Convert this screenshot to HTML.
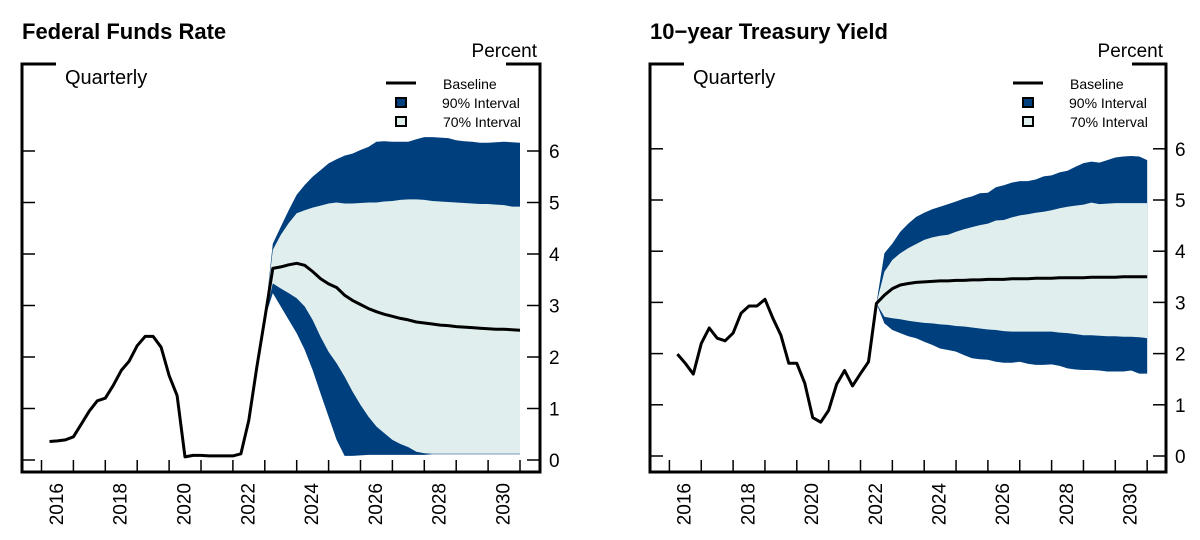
<!DOCTYPE html>
<html><head><meta charset="utf-8"><style>
body{margin:0;background:#fff;}
svg{display:block;font-family:"Liberation Sans",Arial,sans-serif;}
</style></head><body>
<svg id="c" width="1200" height="540" viewBox="0 0 1200 540"></svg>
<script>
// ---- Federal Funds Rate data (quarterly, 2016Q1..2030Q4) ----
const ffrBaseline = [0.36,0.37,0.39,0.45,0.70,0.95,1.15,1.20,1.45,1.74,1.92,2.22,2.40,2.40,2.19,1.64,1.25,0.06,0.09,0.09,0.08,0.08,0.08,0.08,0.12,0.77,1.8,2.75,
3.72,3.75,3.79,3.82,3.78,3.66,3.52,3.42,3.35,3.2,3.1,3.02,2.94,2.88,2.83,2.79,2.75,2.72,2.68,2.66,2.64,2.62,2.61,2.59,2.58,2.57,2.56,2.55,2.54,2.54,2.53,2.52];
const ffrBandStart = 27;
const ffrU90 = [2.75,4.2,4.53,4.85,5.15,5.34,5.5,5.63,5.76,5.84,5.91,5.95,6.02,6.08,6.18,6.19,6.18,6.18,6.18,6.23,6.27,6.27,6.26,6.25,6.21,6.19,6.18,6.16,6.16,6.17,6.18,6.17,6.16];
const ffrU70 = [2.75,4.08,4.37,4.6,4.79,4.85,4.9,4.94,4.98,5.0,4.98,4.98,4.99,5.0,5.0,5.02,5.03,5.05,5.06,5.06,5.05,5.03,5.02,5.01,5.0,4.99,4.98,4.97,4.97,4.96,4.95,4.92,4.92];
const ffrL70 = [2.75,3.43,3.33,3.24,3.14,2.98,2.72,2.39,2.1,1.88,1.62,1.33,1.07,0.84,0.65,0.52,0.39,0.31,0.25,0.16,0.13,0.12,0.12,0.12,0.12,0.12,0.12,0.12,0.12,0.12,0.12,0.12,0.12];
const ffrL90 = [2.75,3.24,2.98,2.72,2.46,2.14,1.75,1.29,0.84,0.39,0.08,0.08,0.09,0.1,0.1,0.1,0.1,0.1,0.1,0.1,0.1,0.11,0.11,0.11,0.11,0.11,0.11,0.11,0.11,0.11,0.11,0.11,0.11];
// ---- 10-year Treasury data ----
const tyBaseline = [1.99,1.81,1.6,2.2,2.5,2.3,2.25,2.4,2.79,2.93,2.93,3.06,2.69,2.36,1.81,1.81,1.42,0.75,0.66,0.89,1.4,1.67,1.37,1.61,1.84,2.98,
3.14,3.27,3.34,3.37,3.39,3.40,3.41,3.42,3.42,3.43,3.43,3.44,3.44,3.45,3.45,3.45,3.46,3.46,3.46,3.47,3.47,3.47,3.48,3.48,3.48,3.48,3.49,3.49,3.49,3.49,3.50,3.50,3.50,3.50];
const tyBandStart = 25;
const tyU90 = [2.98,3.96,4.15,4.38,4.54,4.67,4.75,4.82,4.87,4.92,4.97,5.03,5.07,5.13,5.14,5.25,5.29,5.34,5.37,5.37,5.4,5.46,5.48,5.54,5.57,5.65,5.72,5.75,5.73,5.78,5.83,5.85,5.86,5.85,5.78];
const tyU70 = [2.98,3.6,3.83,3.96,4.06,4.14,4.22,4.27,4.3,4.32,4.38,4.43,4.47,4.51,4.54,4.6,4.61,4.66,4.7,4.72,4.75,4.77,4.8,4.84,4.87,4.89,4.91,4.95,4.92,4.93,4.94,4.94,4.94,4.94,4.94];
const tyL70 = [2.98,2.72,2.69,2.67,2.64,2.62,2.6,2.59,2.57,2.56,2.54,2.53,2.51,2.49,2.47,2.46,2.44,2.43,2.43,2.43,2.43,2.43,2.43,2.41,2.4,2.38,2.36,2.36,2.35,2.34,2.34,2.33,2.33,2.32,2.3];
const tyL90 = [2.98,2.59,2.46,2.4,2.34,2.3,2.23,2.17,2.1,2.07,2.04,1.97,1.91,1.89,1.88,1.84,1.82,1.82,1.84,1.8,1.78,1.78,1.79,1.76,1.71,1.69,1.68,1.68,1.67,1.65,1.65,1.65,1.67,1.61,1.61];
const yTicks = [0,1,2,3,4,5,6];
const yearLabels = [2016,2018,2020,2022,2024,2026,2028,2030];

const NS='http://www.w3.org/2000/svg';
const svg=document.getElementById('c');
function mk(tag,attrs,parent,text){const e=document.createElementNS(NS,tag);for(const k in attrs)e.setAttribute(k,attrs[k]);if(text!==undefined)e.textContent=text;(parent||svg).appendChild(e);return e;}

function drawPanel(cfg){
  const g=mk('g',{});
  
  
  const X=t=>cfg.x0+(t-2016)*cfg.px;
  const Y=v=>cfg.y0-v*cfg.py;
  const qx=i=>X(2016+(i+1)/4);
  function band(up,lo,fill,nm){
    let pts=[];
    for(let i=0;i<up.length;i++)pts.push(qx(cfg.bs+i).toFixed(1)+','+Y(up[i]).toFixed(1));
    for(let i=lo.length-1;i>=0;i--)pts.push(qx(cfg.bs+i).toFixed(1)+','+Y(lo[i]).toFixed(1));
    const p=mk('polygon',{points:pts.join(' '),fill:fill},g);
    
    
  }
  band(cfg.u90,cfg.l90,'#003f7d','band-90-interval');
  band(cfg.u70,cfg.l70,'#e0eeee','band-70-interval');
  let d='';
  cfg.base.forEach((v,i)=>{d+=(i?'L':'M')+qx(i).toFixed(1)+' '+Y(v).toFixed(1);});
  const bl=mk('path',{d:d,fill:'none',stroke:'#000','stroke-width':3,'stroke-linejoin':'round'},g);
  
  
  const L=cfg.L,R=cfg.R,T=64,B=472;
  const fr=mk('path',{d:`M${L+34} ${T}H${L}V${B}H${R}V${T}H${R-34}`,fill:'none',stroke:'#000','stroke-width':3},g);
  
  
  yTicks.forEach(v=>{
    mk('line',{x1:L,x2:L+13,y1:Y(v),y2:Y(v),stroke:'#000','stroke-width':1.5},g);
    mk('line',{x1:R-13,x2:R,y1:Y(v),y2:Y(v),stroke:'#000','stroke-width':1.5},g);
    const t=mk('text',{x:R+9,y:Y(v)+7,'font-size':19},g,String(v));
    
    
  });
  for(let yr=2016;yr<=2031;yr++){
    mk('line',{x1:X(yr),x2:X(yr),y1:B,y2:B-12,stroke:'#000','stroke-width':1.5},g);
  }
  yearLabels.forEach(yr=>{
    const cx=X(yr+0.45)+7;
    const t=mk('text',{x:0,y:0,'font-size':19,'text-anchor':'end',transform:`translate(${cx.toFixed(1)},483) rotate(-90)`},g,String(yr));
    
    
  });
  const ti=mk('text',{x:L,y:39,'font-size':22,'font-weight':'bold'},g,cfg.title);
  
  
  const pc=mk('text',{x:R-3,y:57,'font-size':19,'text-anchor':'end'},g,'Percent');
  
  
  const q=mk('text',{x:L+43,y:84,'font-size':20},g,'Quarterly');
  
  
  const lx=cfg.lx;
  const lg=mk('g',{},g);
  
  
  mk('line',{x1:lx,x2:lx+30,y1:83,y2:83,stroke:'#000','stroke-width':3},lg);
  mk('rect',{x:lx+10,y:98,width:10,height:9,fill:'#003f7d',stroke:'#000','stroke-width':2},lg);
  mk('rect',{x:lx+10,y:117,width:10,height:9,fill:'#e0eeee',stroke:'#000','stroke-width':2},lg);
  mk('text',{x:lx+57,y:89,'font-size':14},lg,'Baseline');
  mk('text',{x:lx+56,y:108,'font-size':14},lg,'90% Interval');
  mk('text',{x:lx+57,y:127,'font-size':14},lg,'70% Interval');
}

drawPanel({name:'federal-funds-rate-panel',title:'Federal Funds Rate',x0:41.5,px:31.9,y0:460,py:51.5,L:22,R:540,lx:386,
  base:ffrBaseline,bs:ffrBandStart,u90:ffrU90,u70:ffrU70,l70:ffrL70,l90:ffrL90});
drawPanel({name:'treasury-yield-panel',title:'10\u2212year Treasury Yield',x0:669.4,px:31.85,y0:456,py:51.2,L:650,R:1166,lx:1013,
  base:tyBaseline,bs:tyBandStart,u90:tyU90,u70:tyU70,l70:tyL70,l90:tyL90});
</script>
</body></html>
